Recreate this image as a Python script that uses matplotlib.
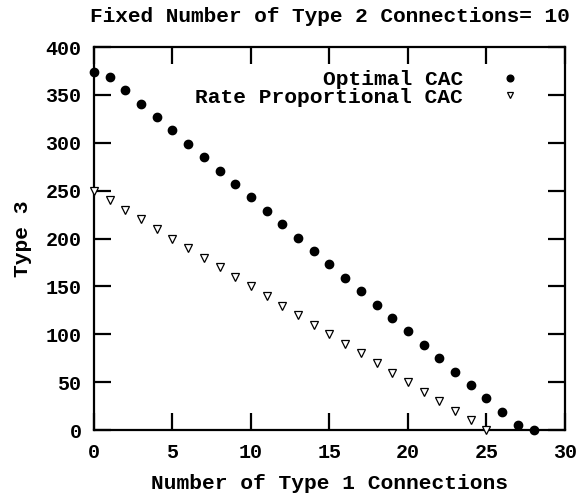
import numpy as np
import matplotlib
matplotlib.use("Agg")
import matplotlib.pyplot as plt

# Number of Type 1 connections (x) and resulting Type 3 count (y)
optimal_x = list(range(0, 29))
optimal_y = [374, 369, 355, 341, 327, 313, 299, 285, 271, 257, 243, 229, 215, 201,
             187, 173, 159, 145, 131, 117, 103, 89, 75, 61, 47, 33, 19, 5, 0]

rate_x = list(range(0, 26))
rate_y = [250, 240, 230, 220, 210, 200, 190, 180, 170, 160, 150, 140, 130, 120,
          110, 100, 90, 80, 70, 60, 50, 40, 30, 20, 10, 0]

x_ticks = [0, 5, 10, 15, 20, 25, 30]
y_ticks = [0, 50, 100, 150, 200, 250, 300, 350, 400]

plt.rcParams["font.family"] = ["Liberation Mono", "DejaVu Sans Mono"]
plt.rcParams["font.weight"] = "bold"

fig = plt.figure(figsize=(5.78, 4.98), dpi=100)
ax = fig.add_axes([0.1626, 0.1365, 0.9775 - 0.1626, 0.9056 - 0.1365])

ax.plot(optimal_x, optimal_y, linestyle="none", marker="o", markersize=6,
        color="black", label="Optimal CAC", clip_on=False, zorder=3)
ax.plot(rate_x, rate_y, linestyle="none", marker="v", markersize=5.6,
        markerfacecolor="white", markeredgecolor="black", markeredgewidth=0.9,
        label="Rate Proportional CAC", clip_on=False, zorder=3)

ax.set_xlim(0, 30)
ax.set_ylim(0, 400)
ax.set_xticks(x_ticks)
ax.set_yticks(y_ticks)
ax.tick_params(direction="in", length=12, width=1.6, top=True, right=True,
               labelsize=14.4, pad=9)
for lab in ax.get_xticklabels() + ax.get_yticklabels():
    lab.set_fontweight("bold")
for sp in ax.spines.values():
    sp.set_linewidth(1.6)

ax.set_xlabel("Number of Type 1 Connections", fontsize=15.3, fontweight="bold", labelpad=9)
ax.set_ylabel("Type 3", fontsize=15.3, fontweight="bold", labelpad=10)
ax.set_title("Fixed Number of Type 2 Connections= 10", fontsize=15.2,
             fontweight="bold", pad=18)

leg = ax.legend(loc="upper right", markerfirst=False, frameon=False,
                fontsize=15.3, markerscale=0.8, handlelength=1.4,
                handletextpad=1.5, labelspacing=-0.05,
                bbox_to_anchor=(0.955, 0.99))
for t in leg.get_texts():
    t.set_fontweight("bold")

fig.savefig("out.png", dpi=100)
